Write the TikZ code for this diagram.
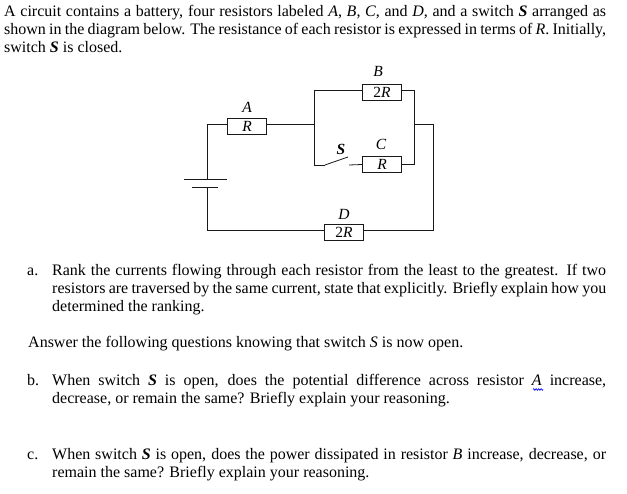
\documentclass[tikz,border=0pt]{standalone}
\usepackage{fontspec}
\setmainfont{Liberation Serif}
\usetikzlibrary{calc,positioning,decorations.pathmorphing}

\newcommand{\fullline}[1]{\hbox to 602pt{#1}}
\newcommand{\itemline}[1]{\hbox to 554pt{#1}}
\newcommand{\bi}[1]{\textbf{\textit{#1}}}

\begin{document}
\begin{tikzpicture}[
		x=1pt,
		y=-1pt,
		font=\fontsize{16pt}{18pt}\selectfont,
		wire/.style={
			line width=0.8pt,
			black!90
		},
		resistor/.style={
			rectangle,
			draw=black!90,
			line width=0.8pt,
			minimum width=39pt,
			minimum height=16pt,
			inner sep=0pt,
			font=\fontsize{15.5pt}{15pt}\selectfont
		},
		label/.style={
			inner sep=0pt,
			font=\fontsize{15.5pt}{15pt}\selectfont\itshape
		},
		textline/.style={
			anchor=base west,
			inner sep=0pt
		}
		]
		\useasboundingbox (0,0) rectangle (627,494);
		
		\node[textline] (introa) at (4,17) {\fullline{A circuit contains a battery, four resistors labeled \textit{A}, \textit{B}, \textit{C}, and \textit{D}, and a switch \bi{S} arranged as}};
		\node[textline] (introb) at (4,35) {\fullline{shown in the diagram below. The resistance of each resistor is expressed in terms of \textit{R}. Initially,}};
		\node[textline] (introc) at (4,53) {switch \bi{S} is closed.};
		
		\node[resistor] (resA) at (247,126) {\textit{R}};
		\node[resistor] (resB) at (382,92) {2\textit{R}};
		\node[resistor] (resC) at (382,164.5) {\textit{R}};
		\node[resistor] (resD) at (344,232) {2\textit{R}};
		
		\node[label] (labA) at (247,107) {A};
		\node[label] (labB) at (378,71) {B};
		\node[label] (labC) at (381,144) {C};
		\node[label] (labD) at (344,214) {D};
		\node[label,font=\fontsize{15.5pt}{15pt}\selectfont\bfseries\itshape] (labS) at (341,149) {S};
		
		\coordinate (corner) at (207,124);
		\coordinate (plusl) at (184,179);
		\coordinate (plusr) at (227,179);
		\coordinate (minusl) at (192,187);
		\coordinate (minusr) at (218,187);
		\coordinate (plus) at (207,179);
		\coordinate (minus) at (207,187);
		\coordinate (bottom) at (207,230);
		\coordinate (split) at (314,124);
		\coordinate (merge) at (414,124);
		\coordinate (outer) at (433,124);
		\coordinate (hinge) at (325,165);
		\coordinate (blade) at (348,157);
		\coordinate (contact) at (349,165);
		\coordinate (squigl) at (533,389.5);
		\coordinate (squigr) at (543,389.5);
		
		\draw[wire] (plusl) -- (plusr);
		\draw[wire] (minusl) -- (minusr);
		\draw[wire] (plus) -- (corner) -- ([yshift=2pt]resA.west);
		\draw[wire] ([yshift=2pt]resA.east) -- (split);
		\draw[wire] ([yshift=2pt]resB.west) -| (split);
		\draw[wire] (hinge) -| (split);
		\draw[wire] (hinge) -- (blade);
		\draw[wire] (contact) -- (resC.west);
		\draw[wire] ([yshift=2pt]resB.east) -| (merge);
		\draw[wire] (resC.east) -| (merge);
		\draw[wire] (merge) -- (outer) |- ([yshift=2pt]resD.east);
		\draw[wire] ([yshift=2pt]resD.west) -- (bottom) -- (minus);
		
		\node[textline] (marka) at (27,275.5) {a.};
		\node[textline] (itema) at (52,275.5) {\itemline{Rank the currents flowing through each resistor from the least to the greatest. If two}};
		\node[textline] (itemaa) at (52,293.5) {\itemline{resistors are traversed by the same current, state that explicitly. Briefly explain how you}};
		\node[textline] (itemab) at (52,312) {determined the ranking.};
		\node[textline] (answer) at (28,348) {Answer the following questions knowing that switch \textit{S} is now open.};
		\node[textline] (markb) at (27,385.5) {b.};
		\node[textline] (itemb) at (52,385.5) {\itemline{When switch \bi{S} is open, does the potential difference across resistor \textit{A} increase,}};
		\node[textline] (itemba) at (52,403.5) {decrease, or remain the same? Briefly explain your reasoning.};
		\node[textline] (markc) at (27,459) {c.};
		\node[textline] (itemc) at (52,459) {\itemline{When switch \bi{S} is open, does the power dissipated in resistor \textit{B} increase, decrease, or}};
		\node[textline] (itemca) at (52,477) {remain the same? Briefly explain your reasoning.};
		
		\draw[blue,line width=0.7pt,decorate,decoration={zigzag,segment length=2.5pt,amplitude=0.8pt}] (squigl) -- (squigr);
		\end{tikzpicture}
\end{document}
